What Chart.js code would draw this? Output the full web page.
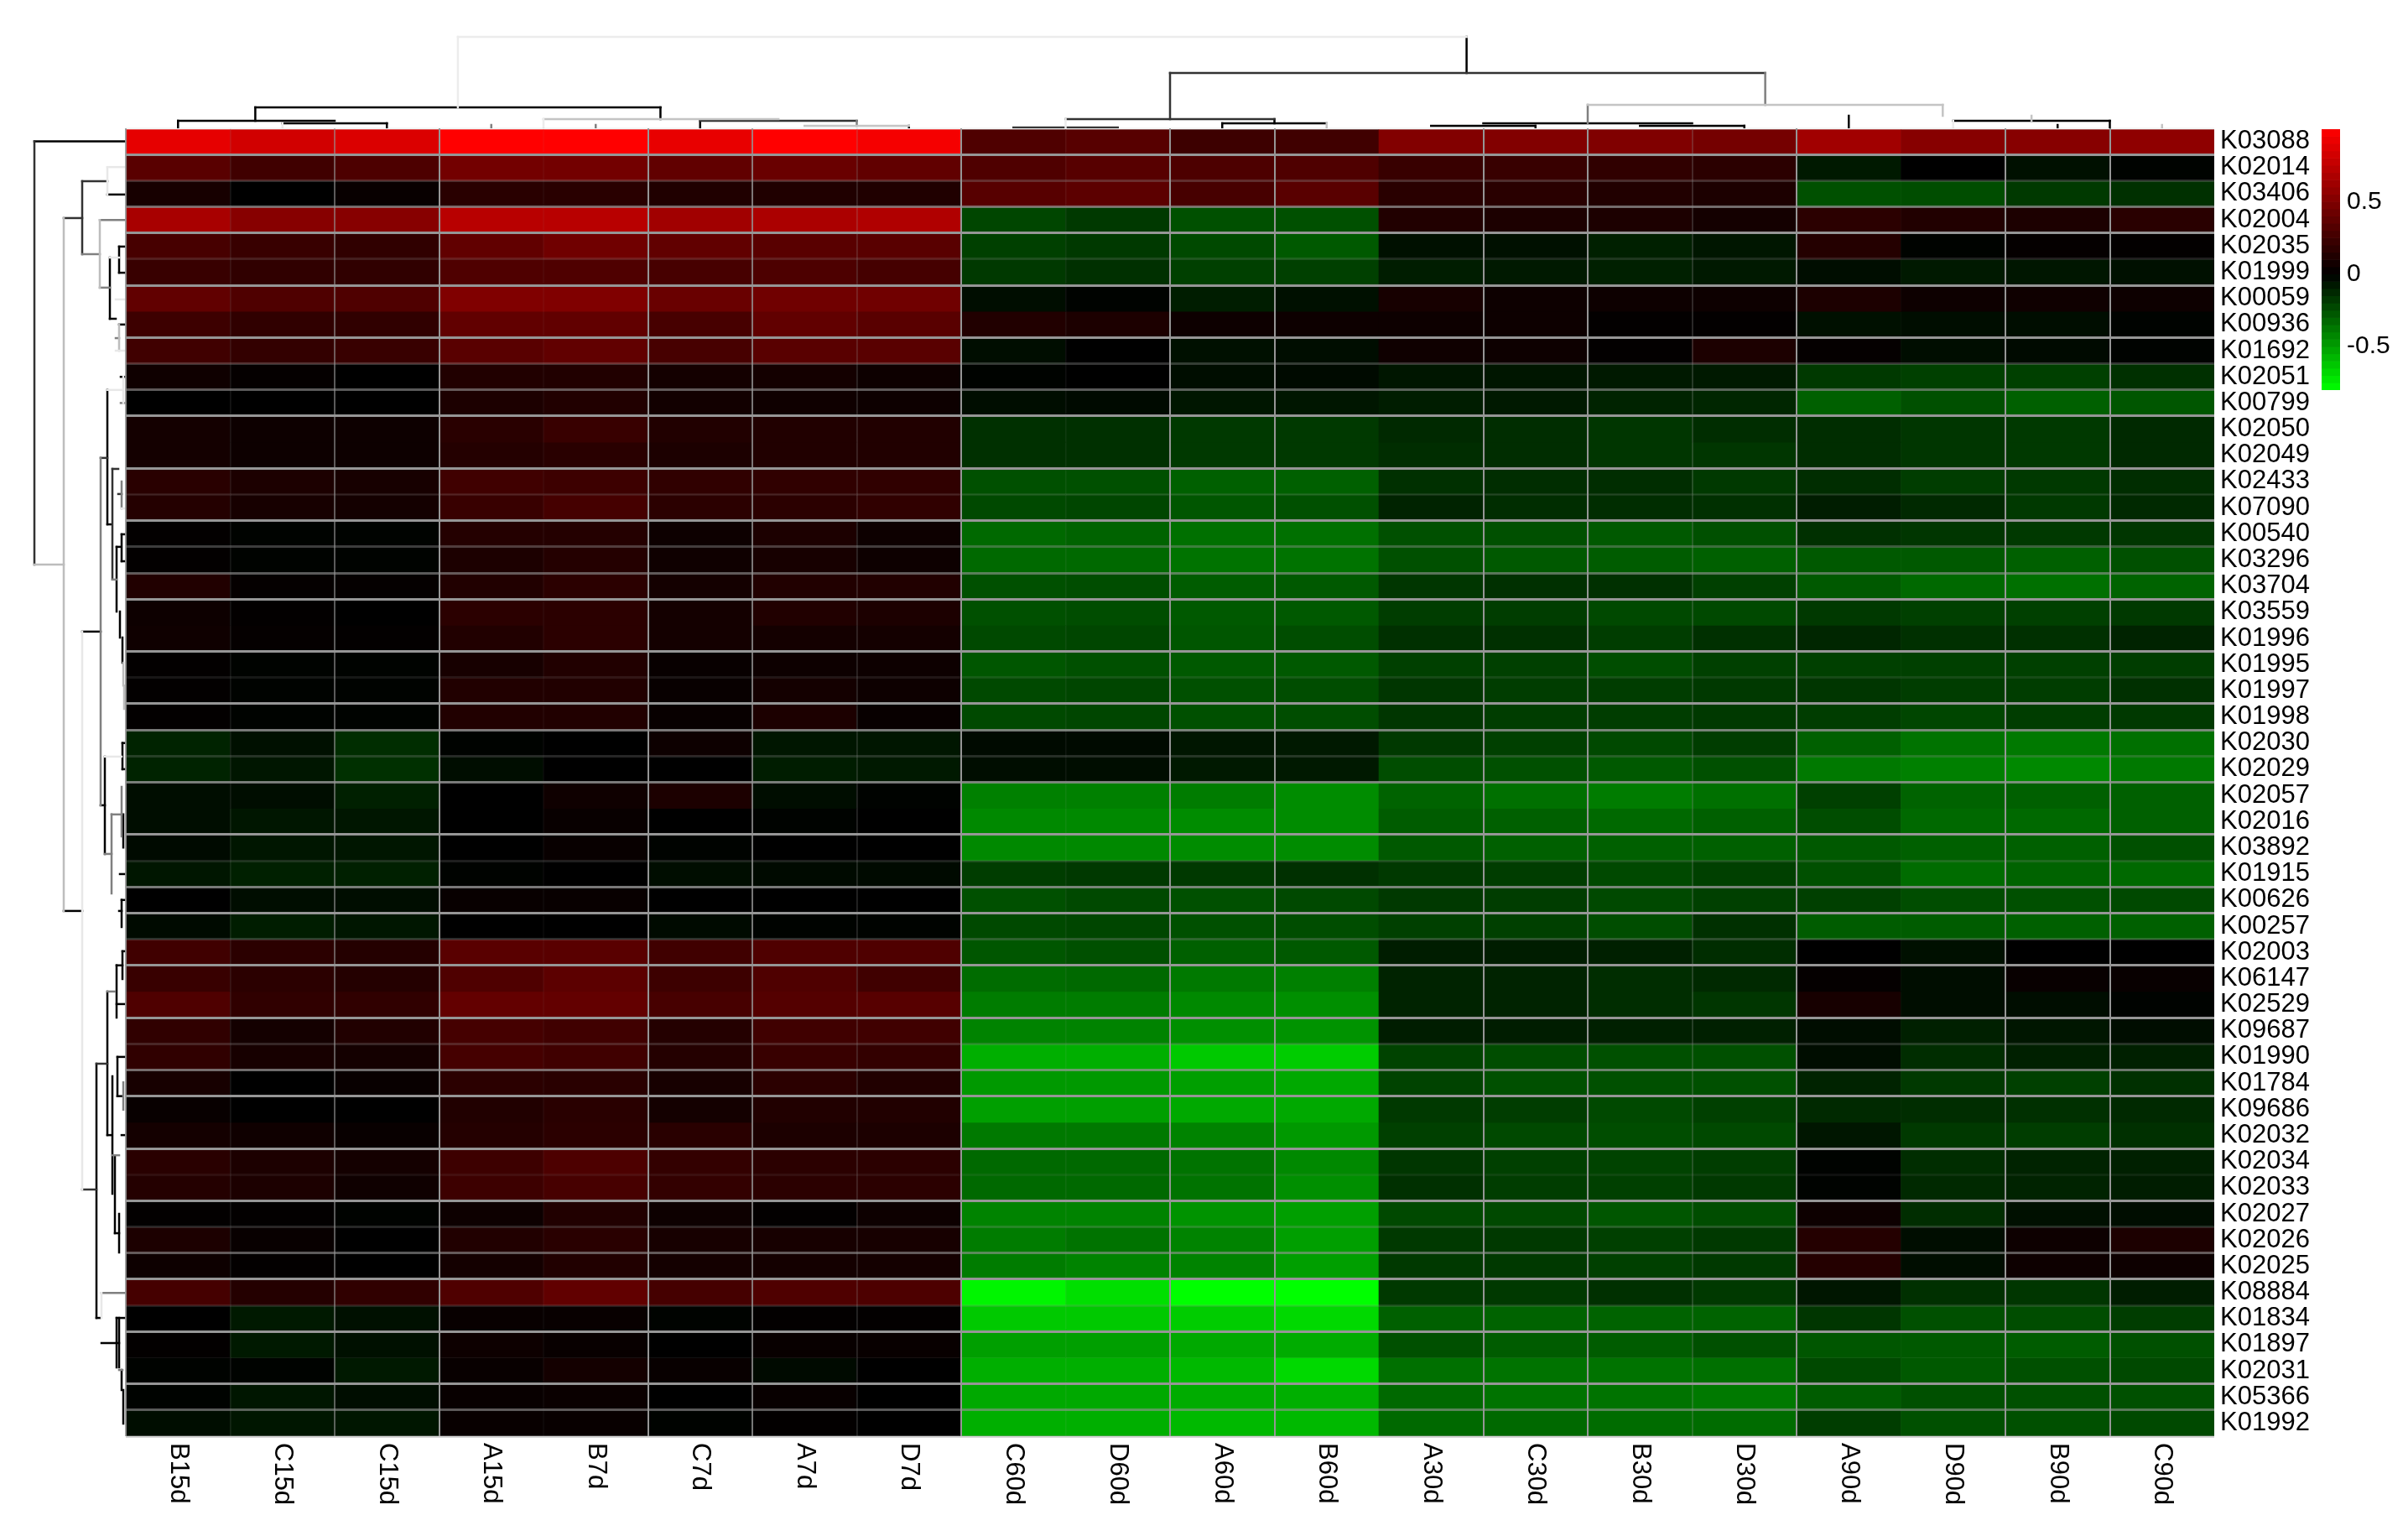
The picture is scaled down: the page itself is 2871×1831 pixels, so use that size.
<!DOCTYPE html>
<html>
<head>
<meta charset="utf-8">
<title>heatmap</title>
<script src="https://cdn.jsdelivr.net/npm/chart.js"></script>
<style>
body{margin:0;background:#fff;}
canvas{position:absolute;}
</style>
</head>
<body>
<canvas id="top_tree" style="left:150px;top:0" width="2490" height="153"></canvas>
<canvas id="left_tree" style="left:0;top:153px" width="150" height="1559"></canvas>
<canvas id="heat" style="left:0;top:0" width="2871" height="1831"></canvas>
<canvas id="color_key" style="left:2768px;top:154px" width="103" height="311"></canvas>
<script>
let colLabels = ["B15d","C15d","C15d","A15d","B7d","C7d","A7d","D7d","C60d","D60d","A60d","B60d","A30d","C30d","B30d","D30d","A90d","D90d","B90d","C90d"];
let rowLabels = ["K03088","K02014","K03406","K02004","K02035","K01999","K00059","K00936","K01692","K02051","K00799","K02050","K02049","K02433","K07090","K00540","K03296","K03704","K03559","K01996","K01995","K01997","K01998","K02030","K02029","K02057","K02016","K03892","K01915","K00626","K00257","K02003","K06147","K02529","K09687","K01990","K01784","K09686","K02032","K02034","K02033","K02027","K02026","K02025","K08884","K01834","K01897","K02031","K05366","K01992"];

// one line per row, same order as rowLabels
let heatValues = [
[.90,.82,.86,1,1,.91,1,.96, .31,.34,.24,.25, .51,.51,.5,.46, .63,.53,.53,.56],
[.35,.25,.30,.45,.45,.38,.41,.38, .31,.34,.30,.31, .22,.22,.19,.17, -.08,0,-.05,-.01],
[.09,0,.03,.16,.16,.125,.125,.125, .34,.36,.28,.35, .16,.16,.13,.11, -.25,-.24,-.18,-.15],
[.66,.53,.53,.72,.72,.63,.67,.69, -.22,-.18,-.25,-.25, .13,.11,.11,.08, .17,.13,.11,.16],
[.28,.22,.19,.38,.44,.38,.35,.35, -.2,-.18,-.23,-.28, -.05,-.05,-.1,-.07, .14,-.01,.02,.01],
[.22,.19,.19,.31,.31,.28,.3,.27, -.18,-.15,-.2,-.2, -.09,-.08,-.1,-.08, -.04,-.08,-.07,-.05],
[.38,.31,.31,.5,.5,.41,.44,.44, -.04,-.01,-.09,-.05, .09,.05,.05,.05, .11,.05,.06,.05],
[.24,.19,.19,.38,.38,.28,.38,.35, .13,.11,.05,.05, .05,.05,.01,.01, -.05,-.04,-.04,-.01],
[.25,.2,.22,.35,.38,.28,.35,.35, -.04,0,-.05,-.04, .06,.05,.01,.11, .02,-.04,-.03,-.01],
[.06,.02,0,.13,.13,.08,.08,.05, -.01,0,-.04,-.03, -.07,-.07,-.08,-.08, -.18,-.2,-.2,-.15],
[0,0,0,.11,.13,.07,.06,.05, -.04,-.03,-.07,-.07, -.09,-.08,-.11,-.12, -.3,-.25,-.3,-.27],
[.08,.05,.05,.16,.22,.13,.13,.13, -.15,-.15,-.18,-.18, -.13,-.14,-.17,-.14, -.14,-.17,-.18,-.13],
[.08,.05,.05,.14,.16,.11,.13,.13, -.15,-.15,-.18,-.18, -.14,-.14,-.17,-.17, -.14,-.17,-.18,-.13],
[.16,.11,.09,.25,.24,.19,.19,.19, -.25,-.25,-.3,-.3, -.15,-.14,-.14,-.18, -.14,-.19,-.18,-.14],
[.14,.09,.08,.22,.27,.17,.17,.19, -.23,-.22,-.27,-.25, -.11,-.14,-.14,-.15, -.09,-.13,-.18,-.13],
[.01,-.01,-.01,.14,.14,.05,.11,.05, -.33,-.31,-.35,-.35, -.25,-.25,-.28,-.25, -.15,-.17,-.18,-.17],
[.01,-.01,-.01,.11,.14,.06,.09,.05, -.33,-.33,-.36,-.36, -.25,-.28,-.29,-.3, -.28,-.28,-.3,-.25],
[.13,.02,.02,.13,.17,.08,.13,.13, -.25,-.24,-.29,-.28, -.17,-.15,-.15,-.2, -.28,-.33,-.35,-.31],
[.05,.01,0,.17,.17,.08,.13,.11, -.25,-.24,-.28,-.28, -.19,-.19,-.23,-.23, -.18,-.2,-.2,-.18],
[.06,.02,.01,.13,.17,.08,.08,.08, -.23,-.22,-.27,-.24, -.15,-.15,-.19,-.15, -.12,-.15,-.15,-.11],
[.01,-.01,-.01,.09,.13,.03,.05,.05, -.27,-.25,-.28,-.28, -.2,-.2,-.24,-.2, -.2,-.2,-.2,-.19],
[.01,-.01,-.01,.13,.13,.03,.08,.05, -.23,-.22,-.25,-.24, -.17,-.19,-.19,-.18, -.17,-.19,-.19,-.15],
[.01,-.01,-.01,.13,.13,.03,.11,.03, -.23,-.22,-.25,-.24, -.17,-.19,-.19,-.18, -.19,-.22,-.19,-.18],
[-.11,-.05,-.14,-.01,0,.05,-.07,-.07, -.03,-.03,-.07,-.08, -.18,-.2,-.23,-.19, -.3,-.36,-.38,-.35],
[-.11,-.07,-.15,-.04,0,0,-.09,-.08, -.04,-.04,-.08,-.08, -.24,-.25,-.28,-.25, -.38,-.4,-.43,-.38],
[-.04,-.04,-.1,0,.06,.11,-.04,-.01, -.4,-.4,-.39,-.44, -.31,-.35,-.39,-.35, -.2,-.31,-.3,-.3],
[-.04,-.07,-.07,0,.03,0,-.01,0, -.43,-.43,-.44,-.44, -.29,-.3,-.33,-.3, -.24,-.33,-.33,-.3],
[-.03,-.07,-.07,0,.03,-.01,0,0, -.43,-.43,-.44,-.44, -.28,-.3,-.3,-.3, -.28,-.3,-.3,-.25],
[-.07,-.1,-.1,-.01,0,-.04,-.03,-.03, -.19,-.18,-.18,-.15, -.18,-.19,-.23,-.2, -.25,-.34,-.31,-.33],
[0,-.04,-.04,.03,.03,0,0,0, -.25,-.23,-.25,-.23, -.18,-.19,-.23,-.2, -.2,-.24,-.25,-.23],
[-.03,-.09,-.07,0,0,-.03,-.01,-.01, -.23,-.22,-.25,-.24, -.2,-.2,-.24,-.15, -.29,-.29,-.3,-.3],
[.25,.17,.14,.35,.35,.25,.31,.31, -.27,-.25,-.3,-.28, -.09,-.09,-.1,-.14, 0,-.05,0,0],
[.22,.17,.14,.31,.36,.24,.31,.25, -.34,-.33,-.38,-.4, -.11,-.11,-.14,-.13, .02,-.04,.03,.03],
[.31,.19,.19,.39,.39,.28,.33,.34, -.39,-.39,-.43,-.45, -.11,-.11,-.14,-.17, .09,-.04,-.04,-.01],
[.19,.08,.13,.27,.25,.14,.25,.25, -.41,-.41,-.45,-.46, -.09,-.09,-.1,-.1, -.04,-.1,-.07,-.04],
[.19,.09,.08,.27,.25,.14,.22,.2, -.55,-.55,-.63,-.64, -.21,-.24,-.25,-.25, -.04,-.14,-.1,-.1],
[.09,0,.03,.17,.16,.09,.17,.13, -.48,-.48,-.5,-.53, -.21,-.25,-.25,-.25, -.11,-.18,-.2,-.15],
[.03,0,0,.13,.16,.08,.13,.13, -.5,-.5,-.53,-.53, -.18,-.19,-.23,-.2, -.13,-.14,-.15,-.13],
[.08,.06,.03,.14,.17,.16,.11,.11, -.38,-.38,-.41,-.48, -.2,-.23,-.24,-.23, -.07,-.18,-.19,-.15],
[.16,.11,.08,.24,.3,.2,.17,.17, -.33,-.33,-.36,-.43, -.17,-.2,-.21,-.19, -.01,-.14,-.11,-.1],
[.14,.11,.06,.24,.28,.2,.17,.17, -.33,-.33,-.36,-.45, -.15,-.19,-.2,-.18, -.01,-.13,-.11,-.09],
[.01,.01,-.01,.05,.13,.05,.01,.05, -.41,-.41,-.46,-.5, -.23,-.23,-.27,-.24, .05,-.14,-.05,-.04],
[.11,.03,0,.13,.16,.09,.09,.09, -.39,-.36,-.41,-.5, -.18,-.18,-.2,-.18, .14,-.04,.05,.11],
[.05,.01,0,.08,.13,.08,.08,.08, -.39,-.41,-.41,-.5, -.18,-.18,-.2,-.18, .14,-.04,.05,.05],
[.27,.14,.19,.31,.38,.27,.31,.3, -.77,-.7,-.8,-.8, -.18,-.18,-.15,-.18, -.07,-.15,-.17,-.09],
[0,-.08,-.05,.03,.03,-.01,.01,.01, -.63,-.63,-.64,-.68, -.3,-.31,-.31,-.31, -.17,-.25,-.24,-.19],
[.01,-.08,-.05,.05,.03,0,.03,.03, -.5,-.5,-.53,-.54, -.25,-.29,-.29,-.25, -.27,-.28,-.29,-.25],
[-.01,-.01,-.08,.03,.08,.03,-.03,0, -.55,-.55,-.58,-.68, -.35,-.36,-.36,-.35, -.23,-.28,-.25,-.23],
[-.01,-.07,-.04,.03,.04,0,.03,0, -.53,-.53,-.54,-.55, -.33,-.36,-.36,-.38, -.29,-.25,-.25,-.25],
[-.04,-.07,-.07,.03,.03,-.01,.01,0, -.55,-.55,-.58,-.58, -.33,-.33,-.34,-.34, -.19,-.25,-.25,-.23]
];

// colour key bands, top of each band
let keySteps = [1,.95,.9,.85,.8,.75,.7,.65,.6,.55,.5,.45,.4,.35,.3,.25,.2,.15,.1,.05,0,-.05,-.1,-.15,-.2,-.25,-.3,-.35,-.4,-.45,-.5,-.55,-.6,-.65,-.7,-.75];
let keyTicks = [.5,0,-.5];

// dendrogram branches, x/height for the top tree: [col,h,col,h]
let topBlack = [[12.84,109,12.84,66],[1.24,25,5.12,25],[1.24,25,1.24,9],[5.12,25,5.12,11],[.5,9,2,9],[1.5,6,2.5,6],[.5,9,.5,0],[2.5,6,2.5,0],[5.5,9,5.5,0],[10.5,6,11.5,6],[10.5,6,10.5,0],[11,11,11,6],[13,6,15,6],[12.5,3,13.5,3],[14.5,3,15.5,3],[13.5,3,13.5,0],[15.5,3,15.5,0],[16.5,15,16.5,0],[17.5,9,19,9],[19,9,19,0],[18.5,4,18.5,0],[7.5,3,7.5,0]];
let topDark = [[10,66,15.7,66],[10,66,10,11],[5.5,9,7,9],[8.5,1,9.5,1],[9,11,11,11]];
let topGray = [[15.7,66,15.7,28],[14,28,14,6],[3.5,4,3.5,0],[4.5,4,4.5,0],[7,9,7,3]];
let topLight = [[14,28,17.4,28],[17.4,28,17.4,15],[6.5,3,7.5,3],[4,11,6.25,11],[11.5,6,11.5,0],[19.5,4,19.5,0],[18.25,15,18.25,9]];
let topFaint = [[3.18,109,12.84,109],[3.18,109,3.18,25],[4,11,4,0],[1.5,6,1.5,0],[17.5,9,17.5,0],[9,11,9,0]];

// left tree: [h,row,h,row]
let leftBlack = [[109,.5,0,.5],[22,2.53,0,2.53],[19,4.94,19,7.28],[8,4.52,8,5.52],[8,4.52,0,4.52],[8,5.52,0,5.52],[19,7.28,12,7.28],[8,7.5,0,7.5],[52,29.92,74,29.92],[52,19.24,30,19.24],[22,10,22,15.14],[6,9.5,0,9.5],[22,15.14,18,15.14],[11,16,11,18.47],[11,16,6,16],[5,15.52,5,16.55],[5,15.52,0,15.52],[5,16.55,0,16.55],[7,18.47,7,19.47],[4,19.47,4,20.43],[25,24.02,25,27.74],[30,25.88,25,25.88],[4,23.5,4,24.5],[4,23.5,0,23.5],[4,24.5,0,24.5],[3,26.23,3,27.49],[7,28.51,0,28.51],[5,29.5,5,30.53],[8,29.92,5,29.92],[5,29.5,0,29.5],[35,35.76,35,45.48],[35,45.48,31,45.48],[22,33,22,38.49],[11,32,11,34],[4,31.46,4,32.52],[4,31.46,0,31.46],[11,32,4,32],[11,33.48,2,33.48],[22,38.49,17,38.49],[16,36.24,16,40.73],[10,35.5,10,37],[10,35.5,0,35.5],[10,37,4,37],[5,38.49,0,38.49],[8,41.5,8,42.98],[13,42.24,8,42.24],[13,39.26,13,42.24],[11,45.48,0,45.48],[11,45.48,11,47.37],[29,46.44,8,46.44],[8,45.48,8,47.37],[5,47.47,5,48.24],[3,48.24,3,49.52]];
let leftDark = [[74,3.43,52,3.43],[52,2.02,52,4.81],[52,2.02,22,2.02],[109,.5,109,16.68],[30,12.6,22,12.6],[16,13.02,16,17.25],[16,13.02,9,13.02],[9,13.98,5,13.98],[35,35.76,22,35.76],[52,40.57,35,40.57]];
let leftGray = [[52,4.81,31,4.81],[31,3.5,0,3.5],[31,6.09,19,6.09],[12,8.02,8,8.02],[6,10.5,0,10.5],[5,13.5,5,14.53],[16,17.25,11,17.25],[25,27.74,17,27.74],[17,26.23,17,29.25],[5,25.18,5,27.07],[30,12.6,30,25.88],[22,33,13,33],[16,39.26,8,39.26],[3,36.47,3,37.52],[29,44.52,0,44.52],[8,47.47,4,47.47],[17,26.23,5,26.23]];
let leftLight = [[109,16.68,74,16.68],[74,3.43,74,29.92],[31,3.5,31,6.09],[8,7.5,8,8.5],[3,20.43,3,21.3],[2,21.3,2,22.19]];
let leftFaint = [[22,1.48,22,2.53],[22,1.48,0,1.48],[52,19.24,52,40.57],[19,4.94,8,4.94],[22,10,5,10],[25,24.02,5,24.02],[3,9.5,3,10.5],[5,14.53,0,14.53],[29,44.52,29,45.48],[12,8.5,0,8.5],[12,6.54,0,6.54]];

// grid lines look uneven in the reference, opacity per boundary
let gridRows = [.4,.6,1,0,1,.2,1,.6,.25,1,.1,1,0,1,.7,.25,1,0,1,.3,1,.8,.2,1,0,.8,.25,.8,1,.15,1,0,1,.6,.4,1,.15,1,0,1,.6,.35,1,0,1,.2,1,.7,.3,1,.1];
let gridCols = [.9,.1,.6,1,.05,1,.8,.2,1,.05,1,1,0,1,1,.25,1,0,1,1,0];

function colorOf(v){
    if(v >= 0) return "rgb("+Math.round(v*255)+",0,0)";
    return "rgb(0,"+Math.round(-v/.8*255)+",0)";
}

let font = {family:"'Liberation Sans'", size:31};
let keyFont = {family:"'Liberation Sans'", size:30};
Chart.defaults.color = "#000";

let heatSets = [];
for(let i=0; i<heatValues.length; i++){
    heatSets.push({
        label:rowLabels[i],
        data:heatValues[i].map(function(){ return 1; }),
        backgroundColor:heatValues[i].map(colorOf),
        borderWidth:0,
        barPercentage:1,
        categoryPercentage:1
    });
}

// x labels read top to bottom and start at the same line, the scale can't do that
let colLabelPlugin = {
    id:"colLabels",
    afterDraw:function(chart){
        let ctx = chart.ctx;
        let x = chart.scales.x;
        ctx.save();
        ctx.font = "31px 'Liberation Sans'";
        ctx.fillStyle = "#000";
        ctx.textAlign = "left";
        ctx.textBaseline = "middle";
        for(let i=0; i<colLabels.length; i++){
            ctx.save();
            ctx.translate(x.getPixelForValue(i), chart.chartArea.bottom+8);
            ctx.rotate(Math.PI/2);
            ctx.fillText(colLabels[i], 0, 0);
            ctx.restore();
        }
        ctx.restore();
    }
};

let heatChart = new Chart(document.getElementById("heat"), {
    type:"bar",
    plugins:[colLabelPlugin],
    data:{labels:colLabels, datasets:heatSets},
    options:{
        responsive:false,
        animation:false,
        layout:{padding:{top:153}},
        plugins:{legend:{display:false}, tooltip:{enabled:false}},
        scales:{
            x:{
                stacked:true,
                afterFit:function(s){ s.height = 119; },
                ticks:{display:false},
                border:{display:false},
                grid:{
                    z:1, lineWidth:2, drawTicks:false,
                    color:function(c){ return "rgba(150,150,150,"+gridCols[c.index === undefined ? 20 : c.index]+")"; }
                }
            },
            y:{
                stacked:true, reverse:true, min:0, max:50,
                afterFit:function(s){ s.width = 150; },
                ticks:{display:false, stepSize:1},
                border:{display:false},
                grid:{
                    z:1, lineWidth:3, drawTicks:false,
                    color:function(c){ return "rgba(150,150,150,"+gridRows[c.index]+")"; }
                }
            },
            rows:{
                type:"category", axis:"y", position:"right", labels:rowLabels, offset:true,
                afterFit:function(s){ s.width = 231; },
                ticks:{font:font, color:"#000", padding:7, autoSkip:false},
                border:{display:false},
                grid:{display:false, drawTicks:false}
            }
        }
    }
});

function treeSets(groups){
    let sets = [];
    for(let g=0; g<groups.length; g++){
        for(let i=0; i<groups[g].segs.length; i++){
            let s = groups[g].segs[i];
            sets.push({
                data:[{x:s[0], y:s[1]}, {x:s[2], y:s[3]}],
                showLine:true, pointRadius:0, borderColor:groups[g].color,
                borderWidth:2.5, borderCapStyle:"square", clip:false
            });
        }
    }
    return sets;
}

let topTree = new Chart(document.getElementById("top_tree"), {
    type:"scatter",
    data:{datasets:treeSets([
        {segs:topFaint, color:"#ececec"},
        {segs:topLight, color:"#c4c4c4"},
        {segs:topGray, color:"#808080"},
        {segs:topDark, color:"#333"},
        {segs:topBlack, color:"#000"}
    ])},
    options:{
        responsive:false, animation:false,
        plugins:{legend:{display:false}, tooltip:{enabled:false}},
        scales:{
            x:{display:false, min:0, max:20},
            y:{display:false, min:0, max:153}
        }
    }
});

let leftTree = new Chart(document.getElementById("left_tree"), {
    type:"scatter",
    data:{datasets:treeSets([
        {segs:leftFaint, color:"#e8e8e8"},
        {segs:leftLight, color:"#bdbdbd"},
        {segs:leftGray, color:"#808080"},
        {segs:leftDark, color:"#333"},
        {segs:leftBlack, color:"#000"}
    ])},
    options:{
        responsive:false, animation:false,
        plugins:{legend:{display:false}, tooltip:{enabled:false}},
        scales:{
            x:{display:false, min:0, max:150, reverse:true},
            y:{display:false, min:0, max:50, reverse:true}
        }
    }
});

let keySets = [];
for(let i=0; i<keySteps.length; i++){
    let top = keySteps[i];
    let bottom = i+1 < keySteps.length ? keySteps[i+1] : -.8;
    keySets.push({
        data:[[bottom, top]],
        backgroundColor:colorOf((top+bottom)/2),
        borderWidth:0, barPercentage:1, categoryPercentage:1
    });
}
let keyChart = new Chart(document.getElementById("color_key"), {
    type:"bar",
    data:{labels:[""], datasets:keySets},
    options:{
        responsive:false, animation:false,
        plugins:{legend:{display:false}, tooltip:{enabled:false}},
        scales:{
            x:{display:false, stacked:true},
            y:{
                position:"right", min:-.8, max:1,
                afterFit:function(s){
                    s.width = 81;
                    s.paddingTop = 0;
                    s.paddingBottom = 0;
                },
                afterBuildTicks:function(s){
                    s.ticks = keyTicks.map(function(v){ return {value:v}; });
                },
                ticks:{font:keyFont, color:"#000", padding:8},
                border:{display:false},
                grid:{display:false, drawTicks:false}
            }
        }
    }
});
</script>
</body>
</html>
